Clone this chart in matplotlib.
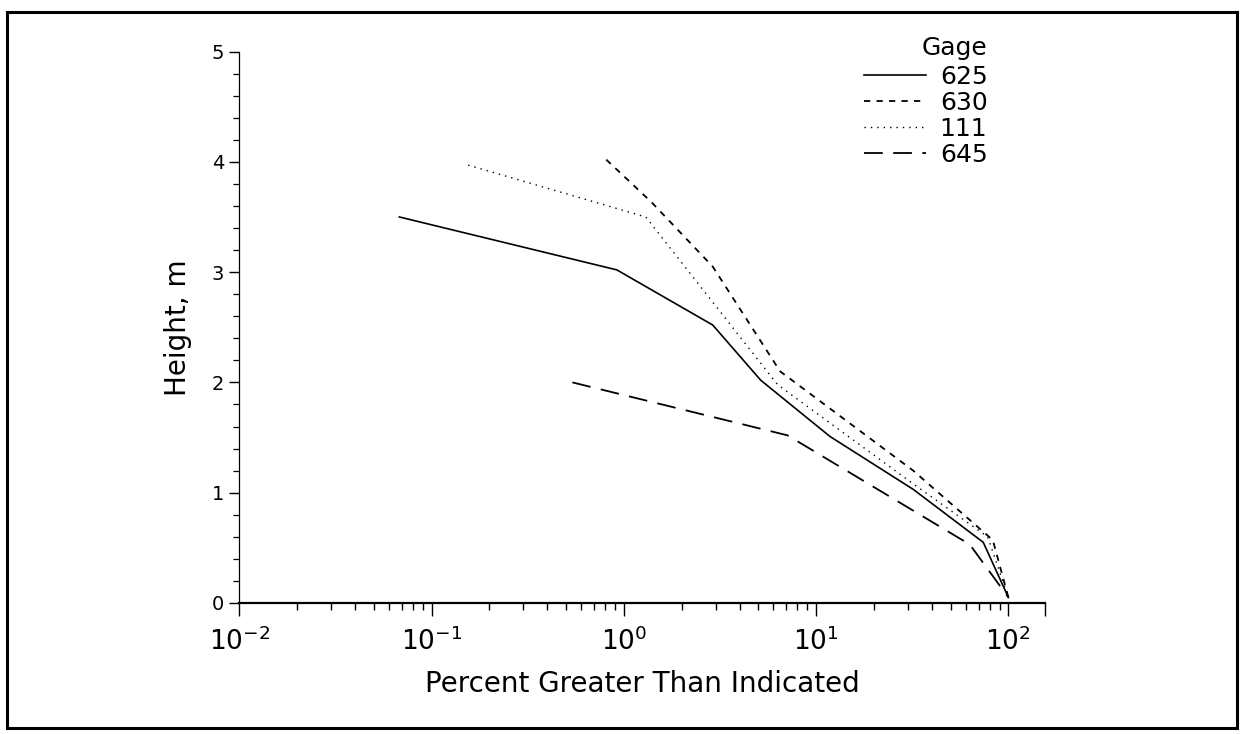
import numpy as np
import matplotlib
matplotlib.use('Agg')
import matplotlib.pyplot as plt
from matplotlib.ticker import LogLocator, MultipleLocator, FixedLocator, NullFormatter, FixedFormatter
from matplotlib.patches import Rectangle

plt.rcParams['font.family'] = ['DejaVu Sans']
plt.rcParams['lines.scale_dashes'] = False

# Percent greater than indicated (x) vs height in m (y)
gage_625_x = [0.068, 0.92, 2.9, 5.15, 11.8, 32, 74, 100]
gage_625_y = [3.5, 3.02, 2.52, 2.02, 1.51, 1.03, 0.55, 0.05]

gage_630_x = [0.81, 1.4, 2.9, 6.5, 32, 83, 100]
gage_630_y = [4.02, 3.63, 3.05, 2.1, 1.2, 0.57, 0.05]

gage_111_x = [0.155, 1.3, 6.3, 32, 78, 100]
gage_111_y = [3.97, 3.5, 1.98, 1.08, 0.6, 0.05]

gage_645_x = [0.54, 7.1, 63, 100]
gage_645_y = [2.0, 1.52, 0.53, 0.05]

x_tick_values = [0.01, 0.1, 1, 10, 100, 155]
x_tick_labels = [r'$10^{-2}$', r'$10^{-1}$', r'$10^{0}$', r'$10^{1}$', r'$10^{2}$', '']


def main():
    fig = plt.figure(figsize=(12.43, 7.34), dpi=100)
    ax = fig.add_axes([0.1925, 0.1785, 0.6482, 0.7513])

    # outer frame around the whole figure
    fig.patches.append(Rectangle((0.0056, 0.0082), 0.9895, 0.9755, transform=fig.transFigure,
                                 fill=False, edgecolor='black', linewidth=2.2))

    ax.plot(gage_625_x, gage_625_y, color='black', linewidth=1.2, linestyle='-', label='625')
    ax.plot(gage_630_x, gage_630_y, color='black', linewidth=1.3, linestyle=(0, (4.5, 4.5)), label='630')
    ax.plot(gage_111_x, gage_111_y, color='black', linewidth=1.0, linestyle=(0, (1.0, 3.6)), label='111')
    ax.plot(gage_645_x, gage_645_y, color='black', linewidth=1.3, linestyle=(0, (13.5, 7.5)), label='645')

    ax.set_xscale('log')
    ax.set_xlim(0.01, 155)
    ax.set_ylim(0, 5)

    ax.xaxis.set_major_locator(FixedLocator(x_tick_values))
    ax.xaxis.set_major_formatter(FixedFormatter(x_tick_labels))
    ax.xaxis.set_minor_locator(LogLocator(base=10, subs=np.arange(2, 10), numticks=20))
    ax.xaxis.set_minor_formatter(NullFormatter())
    ax.yaxis.set_major_locator(MultipleLocator(1))
    ax.yaxis.set_minor_locator(MultipleLocator(0.2))

    for s in ['top', 'right']:
        ax.spines[s].set_visible(False)
    ax.spines['bottom'].set_linewidth(1.6)
    ax.spines['left'].set_linewidth(0.9)

    ax.tick_params(axis='x', which='major', direction='out', length=9, width=1.0, labelsize=19, pad=9)
    ax.tick_params(axis='x', which='minor', direction='out', length=5, width=1.0)
    ax.tick_params(axis='y', which='major', direction='out', length=7, width=1.0, labelsize=14, pad=4)
    ax.tick_params(axis='y', which='minor', direction='out', length=4, width=0.9)

    ax.set_xlabel('Percent Greater Than Indicated', fontsize=20, labelpad=10)
    ax.set_ylabel('Height, m', fontsize=20, labelpad=14)

    leg = ax.legend(title='Gage', loc='upper right', frameon=False, fontsize=18, title_fontsize=18,
                    bbox_to_anchor=(1000 / 1243, 1 - 24 / 734), bbox_transform=fig.transFigure,
                    handlelength=2.5, handletextpad=0.55, labelspacing=0.08, borderpad=0,
                    alignment='right')
    leg._legend_box.sep = 3

    fig.savefig('out.png', dpi=100)
    print("Plot saved to out.png")


if __name__ == "__main__":
    main()
